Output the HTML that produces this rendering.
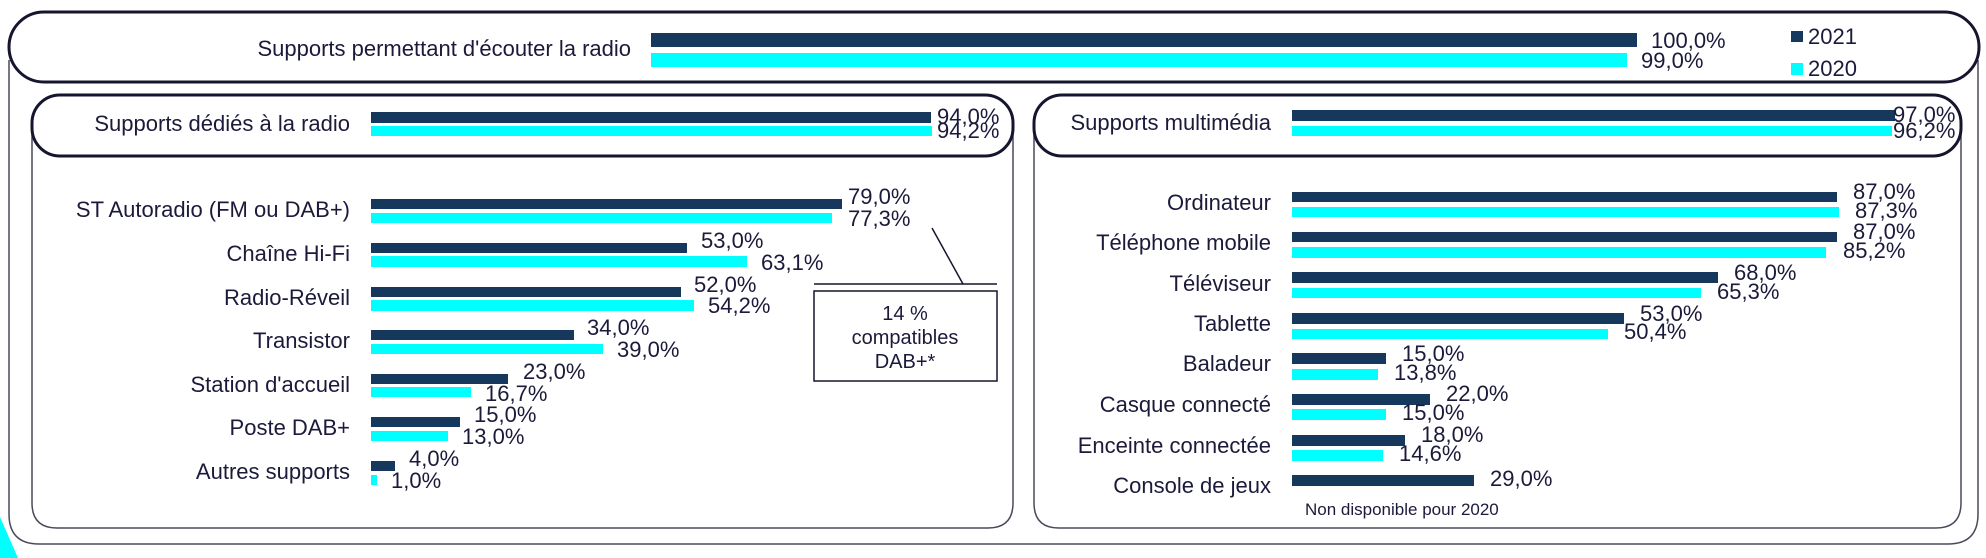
<!DOCTYPE html>
<html><head><meta charset="utf-8"><style>
html,body{margin:0;padding:0;background:#fff;width:1986px;height:558px;overflow:hidden}
svg{display:block}
text{font-family:"Liberation Sans",sans-serif;fill:#1b1a3a}
</style></head><body>
<svg width="1986" height="558" viewBox="0 0 1986 558" xmlns="http://www.w3.org/2000/svg">
<polygon points="0,517 18,558 0,558" fill="#00ffff"/>
<path d="M9,60 V514 Q9,544 39,544 H1948 Q1978,544 1978,514 V60" fill="none" stroke="#4a4a5a" stroke-width="1.5"/>
<rect x="9" y="12" width="1970" height="70" rx="35" fill="#fff" stroke="#15152e" stroke-width="3"/>
<path d="M32,120 V503 Q32,528 57,528 H988 Q1013,528 1013,503 V120" fill="none" stroke="#4a4a5a" stroke-width="1.5"/>
<rect x="32" y="95" width="981" height="61" rx="28" fill="#fff" stroke="#15152e" stroke-width="3"/>
<path d="M1034,120 V503 Q1034,528 1059,528 H1936 Q1961,528 1961,503 V120" fill="none" stroke="#4a4a5a" stroke-width="1.5"/>
<rect x="1034" y="95" width="927" height="61" rx="28" fill="#fff" stroke="#15152e" stroke-width="3"/>

<g font-size="22">
<text x="631" y="56" text-anchor="end">Supports permettant d'écouter la radio</text>
<rect x="651" y="33" width="986" height="14" fill="#15385c"/>
<rect x="651" y="53" width="976" height="14" fill="#00ffff"/>
<text x="1651" y="48">100,0%</text>
<text x="1641" y="68">99,0%</text>
<rect x="1791" y="31" width="12" height="11" fill="#15385c"/>
<text x="1808" y="44">2021</text>
<rect x="1791" y="63" width="12" height="12" fill="#00ffff"/>
<text x="1808" y="76">2020</text>

<text x="350" y="131" text-anchor="end">Supports dédiés à la radio</text>
<rect x="371" y="112" width="560" height="11" fill="#15385c"/>
<rect x="371" y="126" width="561" height="10" fill="#00ffff"/>
<text x="937" y="124">94,0%</text>
<text x="937" y="138">94,2%</text>

<text x="350" y="217" text-anchor="end">ST Autoradio (FM ou DAB+)</text>
<rect x="371" y="199" width="471" height="10" fill="#15385c"/><rect x="371" y="213" width="461" height="10" fill="#00ffff"/>
<text x="848" y="204">79,0%</text><text x="848" y="226">77,3%</text>

<text x="350" y="261" text-anchor="end">Chaîne Hi-Fi</text>
<rect x="371" y="243" width="316" height="10" fill="#15385c"/><rect x="371" y="256" width="376" height="11" fill="#00ffff"/>
<text x="701" y="248">53,0%</text><text x="761" y="270">63,1%</text>

<text x="350" y="305" text-anchor="end">Radio-Réveil</text>
<rect x="371" y="287" width="310" height="10" fill="#15385c"/><rect x="371" y="300" width="323" height="11" fill="#00ffff"/>
<text x="694" y="292">52,0%</text><text x="708" y="313">54,2%</text>

<text x="350" y="348" text-anchor="end">Transistor</text>
<rect x="371" y="330" width="203" height="10" fill="#15385c"/><rect x="371" y="344" width="232" height="10" fill="#00ffff"/>
<text x="587" y="335">34,0%</text><text x="617" y="357">39,0%</text>

<text x="350" y="392" text-anchor="end">Station d'accueil</text>
<rect x="371" y="374" width="137" height="10" fill="#15385c"/><rect x="371" y="387" width="100" height="10" fill="#00ffff"/>
<text x="523" y="379">23,0%</text><text x="485" y="401">16,7%</text>

<text x="350" y="435" text-anchor="end">Poste DAB+</text>
<rect x="371" y="417" width="89" height="10" fill="#15385c"/><rect x="371" y="431" width="77" height="10" fill="#00ffff"/>
<text x="474" y="422">15,0%</text><text x="462" y="444">13,0%</text>

<text x="350" y="479" text-anchor="end">Autres supports</text>
<rect x="371" y="461" width="24" height="10" fill="#15385c"/><rect x="371" y="475" width="6" height="10" fill="#00ffff"/>
<text x="409" y="466">4,0%</text><text x="391" y="488">1,0%</text>

<text x="1271" y="130" text-anchor="end">Supports multimédia</text>
<rect x="1292" y="110" width="603" height="11" fill="#15385c"/>
<rect x="1292" y="126" width="600" height="10" fill="#00ffff"/>
<text x="1893" y="122">97,0%</text>
<text x="1893" y="138">96,2%</text>

<text x="1271" y="210" text-anchor="end">Ordinateur</text>
<rect x="1292" y="192" width="545" height="10" fill="#15385c"/><rect x="1292" y="207" width="547" height="10" fill="#00ffff"/>
<text x="1853" y="199">87,0%</text><text x="1855" y="218">87,3%</text>

<text x="1271" y="250" text-anchor="end">Téléphone mobile</text>
<rect x="1292" y="232" width="545" height="10" fill="#15385c"/><rect x="1292" y="247" width="534" height="11" fill="#00ffff"/>
<text x="1853" y="239">87,0%</text><text x="1843" y="258">85,2%</text>

<text x="1271" y="291" text-anchor="end">Téléviseur</text>
<rect x="1292" y="272" width="426" height="11" fill="#15385c"/><rect x="1292" y="288" width="409" height="10" fill="#00ffff"/>
<text x="1734" y="280">68,0%</text><text x="1717" y="299">65,3%</text>

<text x="1271" y="331" text-anchor="end">Tablette</text>
<rect x="1292" y="313" width="332" height="11" fill="#15385c"/><rect x="1292" y="329" width="316" height="10" fill="#00ffff"/>
<text x="1640" y="321">53,0%</text><text x="1624" y="339">50,4%</text>

<text x="1271" y="371" text-anchor="end">Baladeur</text>
<rect x="1292" y="353" width="94" height="11" fill="#15385c"/><rect x="1292" y="369" width="86" height="11" fill="#00ffff"/>
<text x="1402" y="361">15,0%</text><text x="1394" y="380">13,8%</text>

<text x="1271" y="412" text-anchor="end">Casque connecté</text>
<rect x="1292" y="394" width="138" height="11" fill="#15385c"/><rect x="1292" y="409" width="94" height="11" fill="#00ffff"/>
<text x="1446" y="401">22,0%</text><text x="1402" y="420">15,0%</text>

<text x="1271" y="453" text-anchor="end">Enceinte connectée</text>
<rect x="1292" y="435" width="113" height="11" fill="#15385c"/><rect x="1292" y="450" width="91" height="11" fill="#00ffff"/>
<text x="1421" y="442">18,0%</text><text x="1399" y="461">14,6%</text>

<text x="1271" y="493" text-anchor="end">Console de jeux</text>
<rect x="1292" y="475" width="182" height="11" fill="#15385c"/>
<text x="1490" y="486">29,0%</text>
</g>
<text x="1305" y="515" font-size="17">Non disponible pour 2020</text>

<line x1="814" y1="284" x2="997" y2="284" stroke="#15152e" stroke-width="1.5"/>
<line x1="932" y1="228" x2="963" y2="284" stroke="#15152e" stroke-width="1.5"/>
<rect x="814" y="291" width="183" height="90" fill="#fff" stroke="#15152e" stroke-width="1.5"/>
<g font-size="20" text-anchor="middle">
<text x="905" y="320">14 %</text>
<text x="905" y="344">compatibles</text>
<text x="905" y="368">DAB+*</text>
</g>
</svg>
</body></html>
